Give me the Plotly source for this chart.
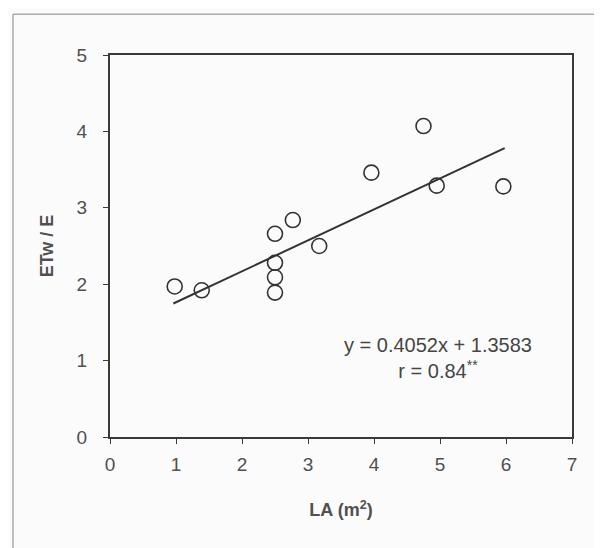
import plotly.graph_objects as go

# Data
la_m2 = [0.98, 1.39, 2.50, 2.50, 2.50, 2.50, 2.77, 3.17, 3.96, 4.75, 4.95, 5.96]
etw_e = [1.97, 1.92, 2.66, 2.28, 2.09, 1.89, 2.84, 2.50, 3.46, 4.07, 3.29, 3.28]

slope = 0.4052
intercept = 1.3583
fit_x = [0.96, 5.98]
fit_y = [slope * x + intercept for x in fit_x]

x_ticks = [0, 1, 2, 3, 4, 5, 6, 7]
y_ticks = [0, 1, 2, 3, 4, 5]

FONT = "Liberation Sans, Arial, sans-serif"
AXIS = "#3a3a3a"
TEXT = "#505050"

fig = go.Figure()
fig.add_trace(go.Scatter(
    x=fit_x, y=fit_y, mode="lines",
    line=dict(color="#333333", width=2), showlegend=False, hoverinfo="skip"))
fig.add_trace(go.Scatter(
    x=la_m2, y=etw_e, mode="markers",
    marker=dict(symbol="circle-open", size=15, color="#333333",
                line=dict(width=1.6, color="#333333")),
    showlegend=False))

fig.add_annotation(
    x=4.97, y=1.03, xref="x", yref="y",
    text="y = 0.4052x + 1.3583<br>r = 0.84<sup>**</sup>",
    showarrow=False, align="center",
    font=dict(family=FONT, size=20, color="#454545"))

# outer page frame (left and top edges of the scanned box)
fig.add_shape(type="line", xref="paper", yref="paper",
              x0=-0.21, x1=-0.21, y0=1.107, y1=-0.32,
              line=dict(color="#aaaaaa", width=1.5))
fig.add_shape(type="line", xref="paper", yref="paper",
              x0=-0.21, x1=1.12, y0=1.107, y1=1.107,
              line=dict(color="#aaaaaa", width=1.5))

fig.update_layout(
    width=602, height=548,
    margin=dict(l=102, r=38, t=47, b=119),
    paper_bgcolor="#fbfbfc", plot_bgcolor="#fbfbfc",
    font=dict(family=FONT, color=TEXT),
)
fig.update_xaxes(
    range=[0, 7], tickvals=x_ticks, ticks="outside", ticklen=5,
    tickcolor=AXIS, showline=True, linecolor=AXIS, linewidth=2,
    mirror=True, showgrid=False, zeroline=False, ticklabelstandoff=4,
    tickfont=dict(size=19, color=TEXT, family=FONT),
    title=dict(text="<b>LA (m<sup>2</sup>)</b>", standoff=30,
               font=dict(size=18, color=TEXT, family=FONT)))
fig.update_yaxes(
    range=[0, 5], tickvals=y_ticks, ticks="outside", ticklen=5,
    tickcolor=AXIS, showline=True, linecolor=AXIS, linewidth=2,
    mirror=True, showgrid=False, zeroline=False, ticklabelstandoff=12,
    tickfont=dict(size=19, color=TEXT, family=FONT),
    title=dict(text="<b>ETw / E</b>", standoff=18,
               font=dict(size=18, color=TEXT, family=FONT)))

fig.write_html("out.html")
